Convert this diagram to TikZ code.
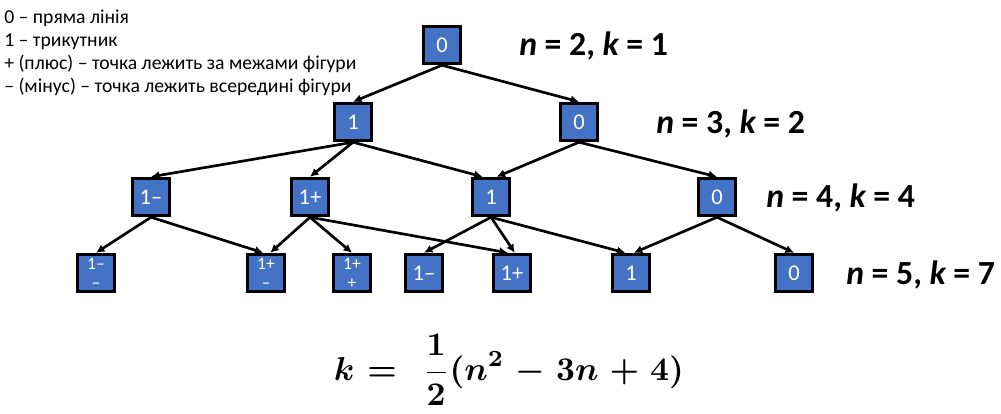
\documentclass[tikz,border=0pt]{standalone}
\usepackage{amsmath, amssymb}
\usepackage{bm}
\usepackage{fontspec}
\setmainfont{Carlito}
\usepackage{tikz}
\usetikzlibrary{arrows.meta,calc,positioning}
\definecolor{boxblue}{HTML}{4472C4}
\tikzset{
  box/.style={draw=black, line width=2.3pt, fill=boxblue, text=white, minimum size=0.93cm, inner sep=0pt, font=\fontsize{16}{18}\selectfont},
  boxtwo/.style={box, align=center, font=\fontsize{12.5}{13.5}\selectfont},
  arr/.style={line width=1.9pt, -{Latex[length=6pt,width=6pt]}},
  lvl/.style={anchor=west, inner sep=0pt, font=\fontsize{24}{28}\selectfont\bfseries}
}
\newcommand{\kformula}{\ensuremath{\medmuskip=6mu\thickmuskip=7mu\displaystyle\bm{k =\; \frac{1}{2}(n^2 - 3n + 4)}}}

\begin{document}
\begin{tikzpicture}[x=0.025cm, y=-0.025cm]
        \useasboundingbox (0,0) rectangle (1001,414);
        % legend
        \node[anchor=north west, inner sep=0pt, align=left, font=\fontsize{14}{16.3}\selectfont] (legend) at (4,10)
          {0 – пряма лінія\\1 – трикутник\\+ (плюс) – точка лежить за межами фігури\\– (мінус) – точка лежить всередині фігури};
        % tree
        \node[box] (r) at (442,45) {0};
        \node[box] (a1) at (353,122) {1};
        \node[box] (a0) at (579,122) {0};
        \node[box] (b1) at (151,197) {1–};
        \node[box] (b2) at (310,197) {1+};
        \node[box] (b3) at (491,197) {1};
        \node[box] (b4) at (717,197) {0};
        \node[boxtwo] (c1) at (96,273) {1–\\–};
        \node[boxtwo] (c2) at (266,273) {1+\\–};
        \node[boxtwo] (c3) at (352,273) {1+\\+};
        \node[box] (c4) at (424,273) {1–};
        \node[box] (c5) at (512,273) {1+};
        \node[box] (c6) at (631,273) {1};
        \node[box] (c7) at (794,273) {0};
        \draw[arr] (r.south) -- (a1.north);
        \draw[arr] (r.south) -- (a0.north);
        \draw[arr] (a1.south) -- (b1.north);
        \draw[arr] (a1.south) -- (b2.north);
        \draw[arr] (a1.south) -- ([xshift=-6pt]b3.north);
        \draw[arr] (a0.south) -- ([xshift=4pt]b3.north);
        \draw[arr] (a0.south) -- (b4.north);
        \draw[arr] (b1.south) -- (c1.north);
        \draw[arr] (b1.south) -- ([xshift=-2pt]c2.north);
        \draw[arr] (b2.south) -- ([xshift=3pt]c2.north);
        \draw[arr] (b2.south) -- (c3.north);
        \draw[arr] (b2.south) -- ([xshift=-3pt]c5.north);
        \draw[arr] (b3.south) -- (c4.north);
        \draw[arr] (b3.south) -- ([xshift=2pt]c5.north);
        \draw[arr] (b3.south) -- ([xshift=-4pt]c6.north);
        \draw[arr] (b4.south) -- ([xshift=2pt]c6.north);
        \draw[arr] (b4.south) -- (c7.north);
        % levels
        \node[lvl] (n2) at (519,46) {{\itshape n} = 2, {\itshape k} = 1};
        \node[lvl] (n3) at (656,124) {{\itshape n} = 3, {\itshape k} = 2};
        \node[lvl] (n4) at (766,198) {{\itshape n} = 4, {\itshape k} = 4};
        \node[lvl] (n5) at (846,275) {{\itshape n} = 5, {\itshape k} = 7};
        % formula
        \node[scale=2.35] (formula) at (509,370) {\kformula};
      \end{tikzpicture}
\end{document}
